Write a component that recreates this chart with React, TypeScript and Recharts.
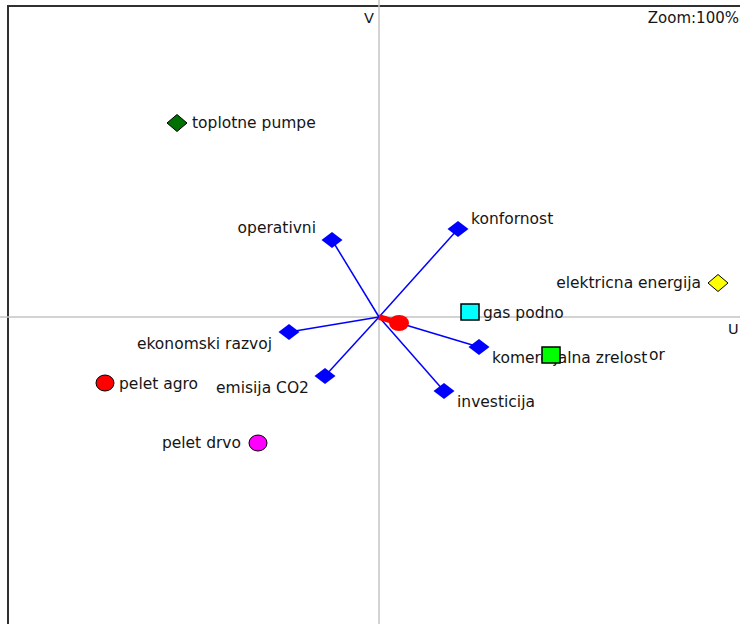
import {
  ScatterChart,
  Scatter,
  XAxis,
  YAxis,
  ReferenceLine,
} from "recharts";

// GAIA plane: criteria axes (blue), actions (coloured markers), decision stick (red)
const CRITERIA = [
  "operativni",
  "konfornost",
  "komercijalna zrelost",
  "investicija",
  "emisija CO2",
  "ekonomski razvoj",
];
const CRITERIA_U = [-0.47, 0.79, 1.0, 0.65, -0.54, -0.9];
const CRITERIA_V = [0.77, 0.88, -0.3, -0.74, -0.59, -0.15];

const ACTIONS = [
  "toplotne pumpe",
  "elektricna energija",
  "gas podno",
  "or",
  "pelet agro",
  "pelet drvo",
];
const ACTION_U = [-2.02, 3.39, 0.91, 1.72, -2.74, -1.21];
const ACTION_V = [1.94, 0.34, 0.05, -0.38, -0.66, -1.26];

const DECISION_U = 0.2;
const DECISION_V = -0.06;

const U_DOMAIN = [-3.79, 3.61];
const V_DOMAIN = [-3.07, 3.17];

const FONT = "'DejaVu Sans', Verdana, sans-serif";
const TEXT_COLOR = "#151515";
const LABEL_SIZE = 15.5;

type Anchor = "start" | "end";
interface LabelPos {
  dx: number;
  dy: number;
  anchor: Anchor;
}

const CRITERIA_LABEL: Record<string, LabelPos> = {
  operativni: { dx: -16, dy: -12, anchor: "end" },
  konfornost: { dx: 13, dy: -10, anchor: "start" },
  "komercijalna zrelost": { dx: 13, dy: 11, anchor: "start" },
  investicija: { dx: 13, dy: 11, anchor: "start" },
  "emisija CO2": { dx: -16, dy: 12, anchor: "end" },
  "ekonomski razvoj": { dx: -17, dy: 12, anchor: "end" },
};

const ACTION_STYLE: Record<string, LabelPos & { shape: string; fill: string }> = {
  "toplotne pumpe": { shape: "diamond", fill: "#007000", dx: 15, dy: 0, anchor: "start" },
  "elektricna energija": { shape: "diamond", fill: "#ffff00", dx: -17, dy: 0, anchor: "end" },
  "gas podno": { shape: "square", fill: "#00ffff", dx: 13, dy: 1, anchor: "start" },
  or: { shape: "square", fill: "#00ff00", dx: 98, dy: 0, anchor: "start" },
  "pelet agro": { shape: "circle", fill: "#ff0000", dx: 14, dy: 1, anchor: "start" },
  "pelet drvo": { shape: "circle", fill: "#ff00ff", dx: -17, dy: 0, anchor: "end" },
};

const criteriaData = CRITERIA.map((name, i) => ({ name, u: CRITERIA_U[i], v: CRITERIA_V[i] }));
const actionData = ACTIONS.map((name, i) => ({ name, u: ACTION_U[i], v: ACTION_V[i] }));
const decisionData = [{ name: "decision", u: DECISION_U, v: DECISION_V }];

function Label({ x, y, text, pos }: { x: number; y: number; text: string; pos: LabelPos }) {
  return (
    <text
      x={x + pos.dx}
      y={y + pos.dy}
      textAnchor={pos.anchor}
      dominantBaseline="central"
      fontFamily={FONT}
      fontSize={LABEL_SIZE}
      fill={TEXT_COLOR}
    >
      {text}
    </text>
  );
}

function diamondPoints(cx: number, cy: number, w: number, h: number) {
  return `${cx - w},${cy} ${cx},${cy - h} ${cx + w},${cy} ${cx},${cy + h}`;
}

function CriterionShape(props: any) {
  const { cx, cy, payload } = props;
  return (
    <g>
      <polygon points={diamondPoints(cx, cy, 10.5, 8)} fill="#0000ff" />
      <Label x={cx} y={cy} text={payload.name} pos={CRITERIA_LABEL[payload.name]} />
    </g>
  );
}

function ActionShape(props: any) {
  const { cx, cy, payload } = props;
  const style = ACTION_STYLE[payload.name];
  let marker;
  if (style.shape === "diamond") {
    marker = (
      <polygon points={diamondPoints(cx, cy, 10, 8.5)} fill={style.fill} stroke="#000" strokeWidth={1} />
    );
  } else if (style.shape === "square") {
    marker = (
      <rect x={cx - 9} y={cy - 8} width={18} height={16} fill={style.fill} stroke="#000" strokeWidth={1.5} />
    );
  } else {
    marker = <ellipse cx={cx} cy={cy} rx={9} ry={8} fill={style.fill} stroke="#000" strokeWidth={1} />;
  }
  return (
    <g>
      <Label x={cx} y={cy} text={payload.name} pos={style} />
      {marker}
    </g>
  );
}

function DecisionShape(props: any) {
  const { cx, cy } = props;
  return <ellipse cx={cx} cy={cy} rx={10} ry={8} fill="#ff0000" />;
}

const axisLabel = (text: string, dx: number, dy: number, anchor: Anchor) => (props: any) => {
  const { viewBox } = props;
  const isVertical = viewBox.width === 0;
  const x = isVertical ? viewBox.x + dx : viewBox.x + viewBox.width + dx;
  const y = viewBox.y + dy;
  return (
    <text x={x} y={y} textAnchor={anchor} dominantBaseline="central" fontFamily={FONT} fontSize={14.5} fill={TEXT_COLOR}>
      {text}
    </text>
  );
};

export default function App() {
  return (
    <div style={{ position: "absolute", left: 0, top: 0, width: 740, height: 624, background: "#fff", overflow: "hidden" }}>
      <div
        style={{
          position: "absolute",
          left: 7,
          top: 5,
          width: 760,
          height: 640,
          borderTop: "2px solid #303030",
          borderLeft: "2px solid #303030",
        }}
      />
      <ScatterChart width={740} height={624} margin={{ top: 0, right: 0, bottom: 0, left: 0 }}>
        <XAxis type="number" dataKey="u" domain={U_DOMAIN} allowDataOverflow hide />
        <YAxis type="number" dataKey="v" domain={V_DOMAIN} allowDataOverflow hide />
        <ReferenceLine
          x={0}
          stroke="#c4c4c4"
          strokeWidth={1.5}
          label={axisLabel("V", -5, 18, "end")}
        />
        <ReferenceLine
          y={0}
          stroke="#c4c4c4"
          strokeWidth={1.5}
          label={axisLabel("U", -12, 12, "start")}
        />
        {criteriaData.map((c) => (
          <ReferenceLine
            key={c.name}
            segment={[
              { x: 0, y: 0 },
              { x: c.u, y: c.v },
            ]}
            stroke="#0000ff"
            strokeWidth={1.5}
          />
        ))}
        <ReferenceLine
          segment={[
            { x: 0, y: 0 },
            { x: DECISION_U, y: DECISION_V },
          ]}
          stroke="#ff0000"
          strokeWidth={6}
        />
        <Scatter data={decisionData} shape={<DecisionShape />} isAnimationActive={false} />
        <Scatter data={criteriaData} shape={<CriterionShape />} isAnimationActive={false} />
        <Scatter data={actionData} shape={<ActionShape />} isAnimationActive={false} />
      </ScatterChart>
      <div
        style={{
          position: "absolute",
          right: 1,
          top: 8,
          fontFamily: FONT,
          fontSize: 15,
          color: TEXT_COLOR,
          lineHeight: "20px",
        }}
      >
        Zoom:100%
      </div>
    </div>
  );
}
